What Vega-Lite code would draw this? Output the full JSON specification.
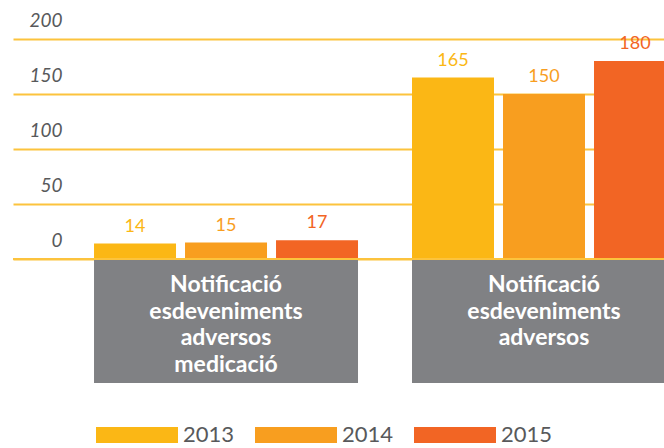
{
  "$schema": "https://vega.github.io/schema/vega-lite/v6.json",
  "width": 651,
  "height": 344,
  "autosize": {"type": "none"},
  "padding": {"left": 13, "top": 39, "right": 0, "bottom": 65},
  "background": "white",
  "config": {
    "view": {"stroke": null},
    "font": "Lato",
    "axisY": {
      "grid": true,
      "domain": false,
      "ticks": false,
      "tickSize": 0,
      "labelAlign": "right",
      "labelBaseline": "alphabetic",
      "labelPadding": -49,
      "labelOffset": -13,
      "labelFont": "Lato",
      "labelFontStyle": "italic",
      "labelFontSize": 19,
      "labelColor": "#58595b",
      "gridColor": "#FCC33D",
      "gridWidth": 2,
      "gridOpacity": 1,
      "title": null
    }
  },
  "datasets": {
    "bars": [
      {"cat": "Notificació esdeveniments adversos medicació", "year": "2013", "value": 14},
      {"cat": "Notificació esdeveniments adversos medicació", "year": "2014", "value": 15},
      {"cat": "Notificació esdeveniments adversos medicació", "year": "2015", "value": 17},
      {"cat": "Notificació esdeveniments adversos", "year": "2013", "value": 165},
      {"cat": "Notificació esdeveniments adversos", "year": "2014", "value": 150},
      {"cat": "Notificació esdeveniments adversos", "year": "2015", "value": 180}
    ],
    "cats": [
      {"cat": "Notificació esdeveniments adversos medicació", "label": "Notificació\nesdeveniments\nadversos\nmedicació"},
      {"cat": "Notificació esdeveniments adversos", "label": "Notificació\nesdeveniments\nadversos"}
    ]
  },
  "layer": [
    {
      "data": {"name": "bars"},
      "mark": {"type": "bar"},
      "encoding": {
        "x": {
          "field": "cat", "type": "nominal", "axis": null,
          "scale": {
            "domain": ["Notificació esdeveniments adversos medicació", "Notificació esdeveniments adversos"],
            "range": [0, 663], "paddingInner": 0.1698, "paddingOuter": 0.1274, "align": 1
          }
        },
        "xOffset": {"field": "year", "type": "nominal", "scale": {"paddingInner": 0.099, "paddingOuter": 0}},
        "y": {
          "field": "value", "type": "quantitative",
          "scale": {"domain": [-112.7, 200], "nice": false, "zero": false},
          "axis": {"values": [0, 50, 100, 150, 200], "title": null, "grid": true}
        },
        "color": {
          "field": "year", "type": "nominal",
          "scale": {"domain": ["2013", "2014", "2015"], "range": ["#FBB715", "#F89E1F", "#F26524"]},
          "legend": {
            "orient": "none", "legendX": 83, "legendY": 355, "direction": "horizontal", "title": null,
            "symbolType": "M-1,-0.195H1V0.195H-1Z", "symbolSize": 6724, "symbolStrokeWidth": 0, "symbolOpacity": 1,
            "labelFontSize": 22, "labelColor": "#58595b", "labelFont": "Lato", "labelOffset": 5, "columnPadding": 20
          }
        }
      }
    },
    {
      "data": {"name": "cats"},
      "mark": {"type": "bar", "color": "#808184"},
      "encoding": {
        "x": {"field": "cat", "type": "nominal", "axis": null},
        "y": {"datum": 0, "type": "quantitative"},
        "y2": {"datum": -112.7}
      }
    },
    {
      "data": {"name": "bars"},
      "mark": {"type": "text", "baseline": "alphabetic", "dy": -12, "fontSize": 18, "font": "Lato"},
      "encoding": {
        "x": {"field": "cat", "type": "nominal", "axis": null},
        "xOffset": {"field": "year", "type": "nominal"},
        "y": {"field": "value", "type": "quantitative"},
        "text": {"field": "value", "type": "quantitative"},
        "color": {"field": "year", "type": "nominal", "legend": null}
      }
    },
    {
      "data": {"values": [{}]},
      "mark": {"type": "rule", "color": "#FCC33D", "strokeWidth": 2},
      "encoding": {"y": {"datum": 0, "type": "quantitative"}}
    },
    {
      "data": {"name": "cats"},
      "mark": {"type": "text", "lineBreak": "\n", "baseline": "top", "dy": 15, "fontSize": 23, "fontWeight": "bold", "color": "white", "lineHeight": 26.7, "font": "Lato"},
      "encoding": {
        "x": {"field": "cat", "type": "nominal", "axis": null},
        "y": {"datum": 0, "type": "quantitative"},
        "text": {"field": "label", "type": "nominal"}
      }
    }
  ]
}
